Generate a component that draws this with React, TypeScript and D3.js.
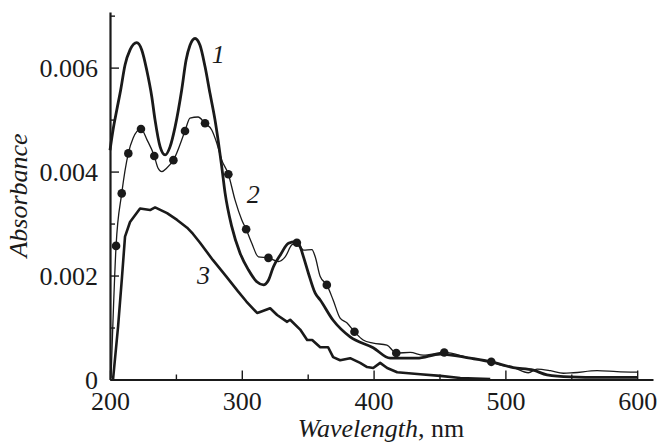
import React, { useEffect, useRef } from 'react';
import * as d3 from 'd3';

// curve 1 (thick)
const wl1 = [200, 202.3, 205.1, 208.1, 211.4, 215.2, 220.3, 224.1, 227.9, 231.7, 234.2, 238, 241.8, 245.6, 249.4, 254.4, 257.7, 260.7, 264.5, 268.3, 272.1, 275.9, 279.7, 282, 284.8, 287.3, 292.4, 298.7, 305, 311.4, 316.4, 320.2, 324, 329.1, 335.4, 340.5, 344.3, 346.8, 350.6, 355.7, 359.5, 369.3, 382.2, 399.7, 412.6, 432.9, 450.6, 473.3, 489.3, 506, 521.2, 531.6, 549.3, 572, 600];
const abs1 = [0.00441, 0.0048, 0.00518, 0.00557, 0.00605, 0.00634, 0.00648, 0.00634, 0.00595, 0.00544, 0.00499, 0.00448, 0.00432, 0.00448, 0.00486, 0.00557, 0.00614, 0.00643, 0.00656, 0.00643, 0.00602, 0.0055, 0.00499, 0.00461, 0.00409, 0.00359, 0.00294, 0.00243, 0.00211, 0.00188, 0.00182, 0.00191, 0.00217, 0.00239, 0.00262, 0.00265, 0.00255, 0.00236, 0.00204, 0.00166, 0.00153, 0.00114, 0.00082, 0.00061, 0.00041, 0.00041, 0.00049, 0.00041, 0.00034, 0.00023, 0.00018, 0.00009, 0.00005, 0.00004, 0.00004];

// curve 2 (thin, with dots)
const wl2 = [200.8, 204.6, 208.9, 213.9, 217.5, 223.5, 228.1, 233.6, 236.4, 239.3, 243.1, 248.1, 256.9, 260.7, 266.8, 272.1, 277.2, 281, 284.8, 289.8, 294.9, 300, 303.3, 307.6, 312.6, 320.2, 327.8, 332.9, 338, 341.8, 346.8, 353.2, 355.7, 359.5, 364.5, 369.3, 374.6, 379.7, 385.5, 392.1, 399.7, 410.1, 417.2, 427.8, 437.7, 453.6, 473.3, 489.3, 496.1, 506, 517.4, 524, 534.1, 544, 551.6, 569.6, 584.7, 600];
const abs2 = [0.00003, 0.00257, 0.00358, 0.00435, 0.00464, 0.00482, 0.00461, 0.0043, 0.00407, 0.004, 0.00407, 0.00422, 0.00478, 0.00503, 0.00505, 0.00493, 0.0048, 0.00455, 0.00422, 0.00395, 0.00345, 0.00307, 0.00289, 0.00262, 0.00236, 0.00234, 0.00227, 0.00236, 0.00259, 0.00263, 0.00249, 0.0025, 0.00236, 0.00198, 0.00182, 0.00153, 0.00118, 0.00109, 0.00092, 0.00076, 0.0007, 0.00066, 0.00051, 0.00052, 0.00047, 0.00052, 0.00041, 0.00034, 0.00028, 0.00023, 0.00013, 0.0002, 0.00017, 0.00012, 0.00013, 0.00017, 0.00015, 0.00014];
const dotWl = [204.6, 208.9, 213.9, 223.5, 233.6, 248.1, 256.9, 272.1, 289.8, 303.3, 320.2, 341.8, 364.5, 385.5, 417.2, 453.6, 489.3];
const dotAbs = [0.00257, 0.00358, 0.00435, 0.00482, 0.0043, 0.00422, 0.00478, 0.00493, 0.00395, 0.00289, 0.00234, 0.00263, 0.00182, 0.00092, 0.00051, 0.00052, 0.00034];

// curve 3 (thick, lowest)
const wl3 = [202.3, 206.1, 209.1, 211.4, 215.2, 222.8, 230.4, 234.2, 243.3, 250.9, 258.5, 263, 268.3, 278, 288, 297, 303.5, 311.6, 313.9, 321.5, 326.8, 334.4, 336.7, 344.3, 349.6, 353.4, 359.5, 365.5, 369.3, 374.6, 382.2, 389.8, 395.1, 399.7, 405, 410.3, 417.9, 435.4, 450.6, 465.8, 488.5];
const abs3 = [0, 0.00101, 0.00197, 0.00275, 0.00303, 0.00329, 0.00326, 0.00331, 0.0032, 0.00307, 0.00292, 0.0028, 0.00263, 0.0023, 0.00199, 0.0017, 0.0015, 0.00128, 0.0013, 0.00137, 0.00124, 0.00111, 0.00115, 0.00096, 0.00076, 0.00076, 0.00062, 0.00062, 0.00043, 0.00037, 0.00041, 0.00032, 0.00024, 0.00022, 0.00032, 0.00022, 0.00014, 0.0001, 0.00007, 0.00003, 0.00001];

const xMajor = [200, 300, 400, 500, 600];
const xMinor = [250, 350, 450, 550];
const yMajor = [0, 0.002, 0.004, 0.006];
const yMinor = [0.001, 0.003, 0.005, 0.007];
const yLabels = ['0', '0.002', '0.004', '0.006'];

const curveLabels = ['1', '2', '3'];
const labelWl = [277.2, 303.8, 266.1];
const labelAbs = [0.00608, 0.0034, 0.00184];

const W = 659, H = 448;
const FONT = "'Liberation Serif', Tinos, 'Times New Roman', Times, serif";

export default function App() {
  const ref = useRef<SVGSVGElement>(null);

  useEffect(() => {
    const svg = d3.select(ref.current);
    svg.selectAll('*').remove();

    const x = d3.scaleLinear().domain([200, 612]).range([110, 653]);
    const y = d3.scaleLinear().domain([0, 0.00707]).range([379.5, 12]);
    const ink = '#1a1a1a';

    const line = d3.line<[number, number]>().x(d => x(d[0])).y(d => y(d[1]));
    const smooth = d3.line<[number, number]>().x(d => x(d[0])).y(d => y(d[1])).curve(d3.curveMonotoneX);

    const c1 = wl1.map((w, i) => [w, abs1[i]] as [number, number]);
    const c2 = wl2.map((w, i) => [w, abs2[i]] as [number, number]);
    const c3 = wl3.map((w, i) => [w, abs3[i]] as [number, number]);

    svg.append('path').attr('d', smooth(c1)).attr('fill', 'none').attr('stroke', ink).attr('stroke-width', 2.8).attr('stroke-linejoin', 'round');
    svg.append('path').attr('d', smooth(c2)).attr('fill', 'none').attr('stroke', ink).attr('stroke-width', 1.3).attr('stroke-linejoin', 'round');
    svg.append('path').attr('d', line(c3)).attr('fill', 'none').attr('stroke', ink).attr('stroke-width', 2.6).attr('stroke-linejoin', 'round');

    svg.selectAll('.dot').data(dotWl).join('circle').attr('class', 'dot')
      .attr('cx', d => x(d)).attr('cy', (d, i) => y(dotAbs[i])).attr('r', 4.3).attr('fill', ink);

    // axes
    const gx = svg.append('g').attr('transform', `translate(0,${y(0)})`)
      .call(d3.axisBottom(x).tickValues(xMajor).tickSizeInner(-9).tickSizeOuter(0).tickPadding(12).tickFormat(d3.format('d')));
    svg.append('g').attr('transform', `translate(0,${y(0)})`)
      .call(d3.axisBottom(x).tickValues(xMinor).tickSizeInner(-5).tickSizeOuter(0).tickFormat(() => ''))
      .select('.domain').remove();
    const gy = svg.append('g').attr('transform', `translate(${x(200)},0)`)
      .call(d3.axisLeft(y).tickValues(yMajor).tickSizeInner(-9).tickSizeOuter(0).tickPadding(12).tickFormat((d, i) => yLabels[i]));
    svg.append('g').attr('transform', `translate(${x(200)},0)`)
      .call(d3.axisLeft(y).tickValues(yMinor).tickSizeInner(-5).tickSizeOuter(0).tickFormat(() => ''))
      .select('.domain').remove();

    svg.selectAll('g').attr('font-family', null);
    svg.selectAll('.domain').attr('stroke', ink).attr('stroke-width', 2.2);
    svg.selectAll('.tick line').attr('stroke', ink).attr('stroke-width', 1.4);
    svg.selectAll('.tick text').style('font-family', FONT).style('font-size', '26px').attr('fill', ink);
    gx.selectAll('.tick text').attr('dy', '0.71em');
    gy.selectAll('.tick text').attr('dy', '0.34em');

    // axis titles
    const xt = svg.append('text').attr('x', 381).attr('y', 437).attr('text-anchor', 'middle')
      .style('font-family', FONT).style('font-size', '26px').attr('fill', ink);
    xt.append('tspan').style('font-style', 'italic').text('Wavelength');
    xt.append('tspan').text(', nm');

    svg.append('text').attr('transform', 'translate(27,195.5) rotate(-90)').attr('text-anchor', 'middle')
      .style('font-family', FONT).style('font-size', '26px').style('font-style', 'italic').attr('fill', ink)
      .text('Absorbance');

    svg.selectAll('.clabel').data(curveLabels).join('text').attr('class', 'clabel')
      .attr('x', (d, i) => x(labelWl[i])).attr('y', (d, i) => y(labelAbs[i]))
      .style('font-family', FONT).style('font-size', '26px').style('font-style', 'italic').attr('fill', ink)
      .text(d => d);
  }, []);

  return (
    <svg ref={ref} width={W} height={H} style={{ position: 'absolute', left: 0, top: 0, background: '#fff' }} />
  );
}
